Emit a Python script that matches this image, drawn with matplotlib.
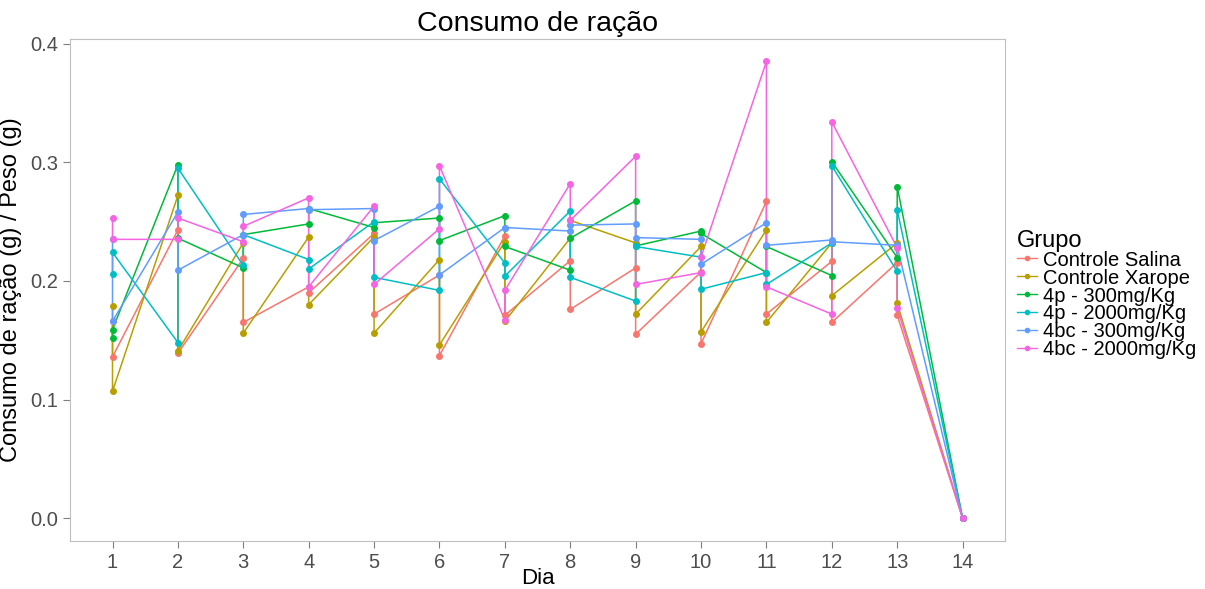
import matplotlib
matplotlib.use('Agg')
import matplotlib.pyplot as plt
from matplotlib.lines import Line2D

plt.rcParams['font.family'] = ['Liberation Sans', 'DejaVu Sans']

# Data: two measurements per day (days 1-13), one on day 14
days = [1, 1, 2, 2, 3, 3, 4, 4, 5, 5, 6, 6, 7, 7, 8, 8, 9, 9, 10, 10,
        11, 11, 12, 12, 13, 13, 14]

controle_salina = [0.166, 0.136, 0.243, 0.139, 0.219, 0.165, 0.195, 0.190, 0.240, 0.172,
                   0.205, 0.137, 0.238, 0.171, 0.217, 0.176, 0.211, 0.155, 0.2075, 0.147,
                   0.267, 0.172, 0.2165, 0.165, 0.2155, 0.171, 0.0]
controle_xarope = [0.179, 0.107, 0.272, 0.141, 0.232, 0.156, 0.237, 0.180, 0.237, 0.156,
                   0.218, 0.146, 0.233, 0.166, 0.236, 0.251, 0.232, 0.172, 0.229, 0.157,
                   0.243, 0.165, 0.232, 0.1875, 0.232, 0.181, 0.0]
p4_300 = [0.152, 0.159, 0.298, 0.236, 0.211, 0.239, 0.248, 0.261, 0.245, 0.249,
          0.253, 0.234, 0.255, 0.229, 0.209, 0.236, 0.2675, 0.2295, 0.242, 0.240,
          0.207, 0.229, 0.2045, 0.3005, 0.2197, 0.2795, 0.0]
p4_2000 = [0.206, 0.224, 0.148, 0.295, 0.213, 0.239, 0.218, 0.210, 0.250, 0.203,
           0.192, 0.286, 0.215, 0.204, 0.259, 0.203, 0.183, 0.229, 0.220, 0.193,
           0.207, 0.197, 0.232, 0.297, 0.208, 0.260, 0.0]
bc4_300 = [0.235, 0.166, 0.258, 0.209, 0.239, 0.256, 0.261, 0.260, 0.261, 0.234,
           0.263, 0.205, 0.245, 0.245, 0.242, 0.247, 0.248, 0.2365, 0.235, 0.214,
           0.249, 0.230, 0.2345, 0.233, 0.230, 0.229, 0.0]
bc4_2000 = [0.253, 0.235, 0.235, 0.253, 0.233, 0.246, 0.270, 0.195, 0.263, 0.197,
            0.244, 0.297, 0.167, 0.192, 0.282, 0.251, 0.305, 0.197, 0.207, 0.220,
            0.385, 0.195, 0.172, 0.334, 0.228, 0.177, 0.0]

groups = ['Controle Salina', 'Controle Xarope', '4p - 300mg/Kg',
          '4p - 2000mg/Kg', '4bc - 300mg/Kg', '4bc - 2000mg/Kg']
series = [controle_salina, controle_xarope, p4_300, p4_2000, bc4_300, bc4_2000]
colors = ['#F8766D', '#B79F00', '#00BA38', '#00BFC4', '#619CFF', '#F564E3']

fig = plt.figure(figsize=(12.05, 5.89), dpi=100)
ax = fig.add_axes([0.0581, 0.0815, 0.776, 0.8525])

for vals, c in zip(series, colors):
    ax.plot(days, vals, color=c, lw=1.1, zorder=2)
for vals, c in zip(series, colors):
    ax.plot(days, vals, 'o', color=c, ms=4, zorder=3)

ax.set_xlim(0.35, 14.65)
ax.set_ylim(-0.01925, 0.404)
ax.set_xticks(range(1, 15))
ax.set_yticks([0.0, 0.1, 0.2, 0.3, 0.4])
ax.set_yticklabels(['0.0', '0.1', '0.2', '0.3', '0.4'])
ax.tick_params(colors='#7F7F7F', labelcolor='#4D4D4D', labelsize=14.5, length=5, width=0.8)
for s in ax.spines.values():
    s.set_color('#BFBFBF')
    s.set_linewidth(0.8)

ax.set_title('Consumo de ração', fontsize=20.5, pad=6)
ax.set_xlabel('Dia', fontsize=16, labelpad=-3)
ax.set_ylabel('Consumo de ração (g) / Peso (g)', fontsize=17, labelpad=6)

handles = [Line2D([0], [0], color=c, lw=1.0, marker='o', ms=3) for c in colors]
leg = fig.legend(handles, groups, title='Grupo', loc='center left',
                 bbox_to_anchor=(0.837, 0.5), frameon=False, fontsize=14.5,
                 title_fontsize=17, handlelength=1.0, handletextpad=0.3,
                 labelspacing=-0.05, borderaxespad=0)
leg._legend_box.align = 'left'

fig.savefig('out.png', dpi=100)
